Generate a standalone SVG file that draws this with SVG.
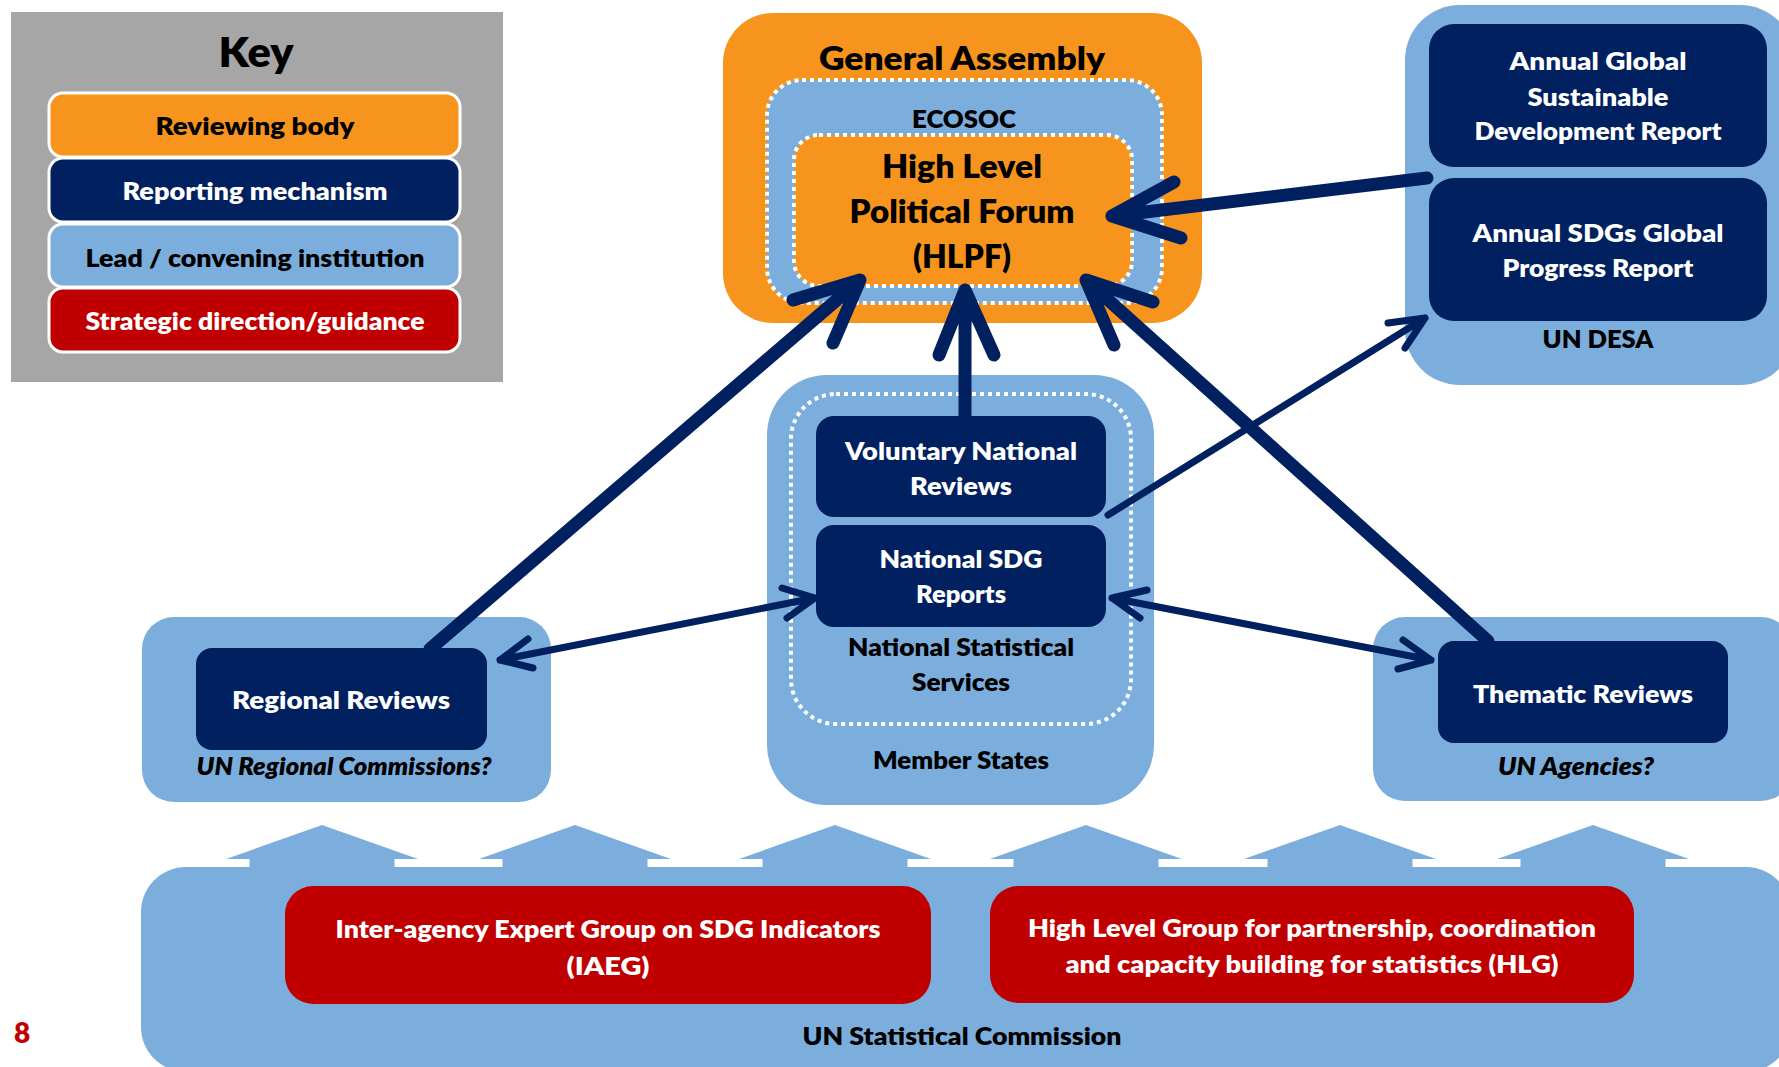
<svg xmlns="http://www.w3.org/2000/svg" width="1779" height="1067" viewBox="0 0 1779 1067">
<defs>
<style>
text{font-family:"Lato","Liberation Sans",sans-serif;font-weight:800;text-anchor:middle}
.w{fill:#ffffff}
.k{fill:#000000}
.it{font-style:italic}
.org{fill:#F7941D}
.nav{fill:#002060}
.lb{fill:#7BAEDD}
.red{fill:#C00000}
.dot{fill:none;stroke:#ffffff;stroke-width:4;stroke-dasharray:4 4}
.keyi{stroke:#ffffff;stroke-width:3}
.thick{fill:none;stroke:#002060;stroke-width:13;stroke-linecap:round;stroke-linejoin:round}
.thin{fill:none;stroke:#002060;stroke-width:7;stroke-linecap:round;stroke-linejoin:round}
</style>
</defs>
<rect width="1779" height="1067" fill="#ffffff"/>

<g id="key">
<rect x="11" y="12" width="492" height="370" fill="#A6A6A6"/>
<text x="256" y="67" font-size="42" class="k" textLength="75" lengthAdjust="spacingAndGlyphs">Key</text>
<rect x="49" y="93" width="411" height="64" rx="14" class="org keyi"/>
<text x="255" y="135" font-size="25" class="k" textLength="199" lengthAdjust="spacingAndGlyphs">Reviewing body</text>
<rect x="49" y="158" width="411" height="64" rx="14" class="nav keyi"/>
<text x="255" y="200" font-size="25" class="w" textLength="265" lengthAdjust="spacingAndGlyphs">Reporting mechanism</text>
<rect x="49" y="224" width="411" height="63" rx="14" class="lb keyi"/>
<text x="255" y="267" font-size="25" class="k" textLength="339" lengthAdjust="spacingAndGlyphs">Lead / convening institution</text>
<rect x="49" y="288" width="411" height="64" rx="14" class="red keyi"/>
<text x="255" y="330" font-size="25" class="w" textLength="339" lengthAdjust="spacingAndGlyphs">Strategic direction/guidance</text>
</g>

<g id="general-assembly">
<rect x="723" y="13" width="479" height="310" rx="50" class="org"/>
<text x="962" y="70" font-size="32" class="k" textLength="286" lengthAdjust="spacingAndGlyphs">General Assembly</text>
</g>
<g id="ecosoc">
<rect x="767" y="80" width="395" height="223" rx="35" class="lb"/>
<rect x="767" y="80" width="395" height="223" rx="35" class="dot"/>
<text x="964" y="128" font-size="24" class="k" textLength="104" lengthAdjust="spacingAndGlyphs">ECOSOC</text>
</g>
<g id="hlpf">
<rect x="794" y="135" width="338" height="151" rx="25" class="org"/>
<rect x="794" y="135" width="338" height="151" rx="25" class="dot"/>
<text x="962" y="178" font-size="32" class="k" textLength="160" lengthAdjust="spacingAndGlyphs">High Level</text>
<text x="962" y="223" font-size="32" class="k" textLength="225" lengthAdjust="spacingAndGlyphs">Political Forum</text>
<text x="962" y="268" font-size="32" class="k" textLength="98" lengthAdjust="spacingAndGlyphs">(HLPF)</text>
</g>

<g id="un-desa">
<rect x="1405" y="5" width="390" height="380" rx="55" class="lb"/>
<text x="1598" y="348" font-size="24" class="k" textLength="111" lengthAdjust="spacingAndGlyphs">UN DESA</text>
</g>
<g id="annual-gsdr">
<rect x="1429" y="24" width="338" height="143" rx="25" class="nav"/>
<text x="1598" y="70" font-size="24" class="w" textLength="177" lengthAdjust="spacingAndGlyphs">Annual Global</text>
<text x="1598" y="106" font-size="24" class="w" textLength="141" lengthAdjust="spacingAndGlyphs">Sustainable</text>
<text x="1598" y="140" font-size="24" class="w" textLength="247" lengthAdjust="spacingAndGlyphs">Development Report</text>
</g>
<g id="annual-sdgs">
<rect x="1429" y="178" width="338" height="143" rx="25" class="nav"/>
<text x="1598" y="242" font-size="24" class="w" textLength="251" lengthAdjust="spacingAndGlyphs">Annual SDGs Global</text>
<text x="1598" y="277" font-size="24" class="w" textLength="191" lengthAdjust="spacingAndGlyphs">Progress Report</text>
</g>

<g id="member-states">
<rect x="767" y="375" width="387" height="430" rx="60" class="lb"/>
<text x="961" y="769" font-size="25" class="k" textLength="176" lengthAdjust="spacingAndGlyphs">Member States</text>
</g>
<g id="national-statistical-services">
<rect x="791" y="394" width="340" height="330" rx="45" class="dot"/>
<text x="961" y="656" font-size="25" class="k" textLength="226" lengthAdjust="spacingAndGlyphs">National Statistical</text>
<text x="961" y="691" font-size="25" class="k" textLength="98" lengthAdjust="spacingAndGlyphs">Services</text>
</g>
<g id="vnr">
<rect x="816" y="416" width="290" height="101" rx="18" class="nav"/>
<text x="961" y="460" font-size="25" class="w" textLength="232" lengthAdjust="spacingAndGlyphs">Voluntary National</text>
<text x="961" y="495" font-size="25" class="w" textLength="102" lengthAdjust="spacingAndGlyphs">Reviews</text>
</g>
<g id="national-sdg-reports">
<rect x="816" y="525" width="290" height="102" rx="18" class="nav"/>
<text x="961" y="568" font-size="25" class="w" textLength="163" lengthAdjust="spacingAndGlyphs">National SDG</text>
<text x="961" y="603" font-size="25" class="w" textLength="90" lengthAdjust="spacingAndGlyphs">Reports</text>
</g>

<g id="regional-commissions">
<rect x="142" y="617" width="409" height="185" rx="32" class="lb"/>
<text x="344" y="775" font-size="25" class="k it" textLength="295" lengthAdjust="spacingAndGlyphs">UN Regional Commissions?</text>
</g>
<g id="regional-reviews">
<rect x="196" y="648" width="291" height="102" rx="16" class="nav"/>
<text x="341" y="709" font-size="25" class="w" textLength="218" lengthAdjust="spacingAndGlyphs">Regional Reviews</text>
</g>

<g id="un-agencies">
<rect x="1373" y="617" width="420" height="184" rx="32" class="lb"/>
<text x="1576" y="775" font-size="25" class="k it" textLength="156" lengthAdjust="spacingAndGlyphs">UN Agencies?</text>
</g>
<g id="thematic-reviews">
<rect x="1438" y="641" width="290" height="102" rx="16" class="nav"/>
<text x="1583" y="703" font-size="25" class="w" textLength="220" lengthAdjust="spacingAndGlyphs">Thematic Reviews</text>
</g>

<g id="un-statistical-commission">
<rect x="141" y="867" width="1650" height="205" rx="45" class="lb"/>
<polygon class="lb" points="226,859 322,825 418,859 394.5,859 394.5,870 249.5,870 249.5,859"/>
<polygon class="lb" points="479,859 575,825 671,859 647.5,859 647.5,870 502.5,870 502.5,859"/>
<polygon class="lb" points="739,859 835,825 931,859 907.5,859 907.5,870 762.5,870 762.5,859"/>
<polygon class="lb" points="990,859 1086,825 1182,859 1158.5,859 1158.5,870 1013.5,870 1013.5,859"/>
<polygon class="lb" points="1244,859 1340,825 1436,859 1412.5,859 1412.5,870 1267.5,870 1267.5,859"/>
<polygon class="lb" points="1497,859 1593,825 1689,859 1665.5,859 1665.5,870 1520.5,870 1520.5,859"/>
<text x="962" y="1045" font-size="25" class="k" textLength="319" lengthAdjust="spacingAndGlyphs">UN Statistical Commission</text>
</g>
<g id="iaeg">
<rect x="285" y="886" width="646" height="118" rx="28" class="red"/>
<text x="608" y="938" font-size="24" class="w" textLength="545" lengthAdjust="spacingAndGlyphs">Inter-agency Expert Group on SDG Indicators</text>
<text x="608" y="975" font-size="24" class="w" textLength="83" lengthAdjust="spacingAndGlyphs">(IAEG)</text>
</g>
<g id="hlg">
<rect x="990" y="886" width="644" height="117" rx="28" class="red"/>
<text x="1312" y="937" font-size="24" class="w" textLength="568" lengthAdjust="spacingAndGlyphs">High Level Group for partnership, coordination</text>
<text x="1312" y="973" font-size="24" class="w" textLength="493" lengthAdjust="spacingAndGlyphs">and capacity building for statistics (HLG)</text>
</g>

<g id="connectors">
<path class="thick" d="M430,649 L860,280 M793,300 L860,280 L833,343"/>
<path class="thick" d="M965,416 L965,290 M939,355 L965,290 L994,355"/>
<path class="thick" d="M1488,641 L1086,280 M1153,302 L1086,280 L1114,345"/>
<path class="thick" d="M1427,178 L1112,216 M1174,182 L1112,216 L1181,238"/>
<path class="thin" d="M1108,515 L1425,318 M1388,323 L1425,318 L1405,348"/>
<path class="thin" d="M500,660 L815,598 M528,639 L500,660 L533,668 M782,588 L815,598 L787,618"/>
<path class="thin" d="M1112,598 L1431,660 M1147,590 L1112,598 L1140,618 M1403,640 L1431,660 L1398,669"/>
</g>

<text x="22" y="1043" font-size="28" fill="#C00000">8</text>
</svg>
